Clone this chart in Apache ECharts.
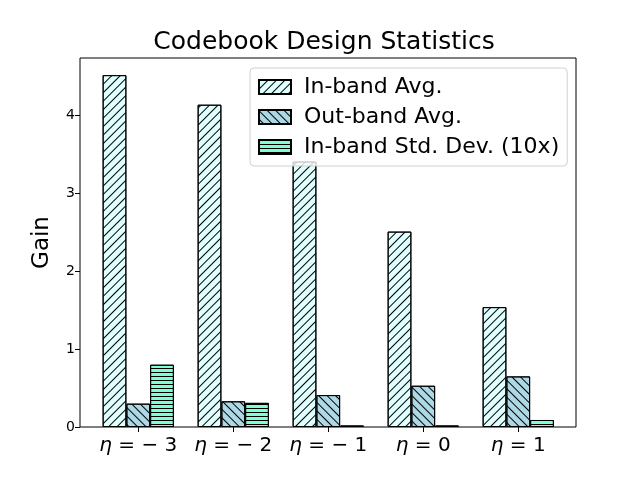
<!DOCTYPE html>
<html>
<head>
<meta charset="utf-8">
<style>
    html, body { margin: 0; padding: 0; background: #fff; }
    #main { width: 640px; height: 480px; }
</style>
</head>
<body>
<div id="main"></div>
<script src="https://cdn.jsdelivr.net/npm/echarts@6/dist/echarts.min.js"></script>
<script>
    var categories = ['η = − 3', 'η = − 2', 'η = − 1', 'η = 0', 'η = 1'];
    var inbandAvg = [4.52, 4.14, 3.41, 2.51, 1.54];
    var outbandAvg = [0.30, 0.33, 0.41, 0.53, 0.65];
    var inbandStd = [0.80, 0.31, 0.02, 0.02, 0.09];
    var yTicks = [0, 1, 2, 3, 4];

    var font = 'DejaVu Sans';
    var myChart = echarts.init(document.getElementById('main'));

    function hatch(rot, gap) {
        return {
            symbol: 'rect',
            symbolSize: 1,
            color: '#000',
            dashArrayX: [1, 0],
            dashArrayY: [1, gap],
            rotation: rot
        };
    }

    var option = {
        animation: false,
        backgroundColor: '#fff',
        title: {
            text: 'Codebook Design Statistics',
            left: 319,
            top: 25,
            textAlign: 'center',
            textStyle: {fontFamily: font, fontSize: 25, fontWeight: 'normal', color: '#000'}
        },
        legend: {
            orient: 'vertical',
            left: 250,
            top: 68,
            icon: 'rect',
            itemWidth: 32,
            itemHeight: 14,
            itemGap: 8,
            padding: [8, 8, 8, 8],
            backgroundColor: 'rgba(255,255,255,0.8)',
            borderColor: '#d0d0d0',
            borderWidth: 1,
            borderRadius: 4,
            textStyle: {fontFamily: font, fontSize: 22, color: '#000', padding: [0, 0, 0, 8]},
            data: ['In-band Avg.', 'Out-band Avg.', 'In-band Std. Dev. (10x)']
        },
        grid: [{
            // frame
            show: true,
            left: 80, top: 58, width: 496, height: 369,
            borderColor: '#000',
            borderWidth: 1,
            backgroundColor: 'transparent'
        }, {
            left: 90.75, top: 58, width: 475, height: 369
        }],
        xAxis: [{
            gridIndex: 0,
            type: 'value',
            min: 0, max: 1,
            show: false
        }, {
            gridIndex: 1,
            type: 'category',
            data: categories,
            axisLine: {show: false},
            axisTick: {show: true, alignWithLabel: true, length: 5, lineStyle: {color: '#000'}},
            axisLabel: {
                margin: 9,
                color: '#000',
                formatter: function (v) {
                    return '{e|' + v.charAt(0) + '}{n|' + v.slice(1) + '}';
                },
                rich: {
                    e: {fontFamily: font, fontStyle: 'italic', fontSize: 20, color: '#000'},
                    n: {fontFamily: font, fontSize: 20, color: '#000'}
                }
            }
        }],
        yAxis: [{
            gridIndex: 0,
            type: 'value',
            min: 0, max: 4.74,
            name: 'Gain',
            nameLocation: 'middle',
            nameGap: 26,
            nameTextStyle: {fontFamily: font, fontSize: 23, color: '#000'},
            axisLine: {show: false},
            axisTick: {show: true, length: 5, customValues: yTicks, lineStyle: {color: '#000'}},
            axisLabel: {
                margin: 5, color: '#000', fontFamily: font, fontSize: 14,
                customValues: yTicks
            },
            splitLine: {show: false}
        }, {
            gridIndex: 1,
            type: 'value',
            min: 0, max: 4.74,
            show: false,
            splitLine: {show: false}
        }],
        series: [{
            name: 'In-band Avg.',
            type: 'bar',
            xAxisIndex: 1, yAxisIndex: 1,
            barWidth: 23.75,
            barGap: '0%',
            data: inbandAvg,
            itemStyle: {color: '#e0ffff', borderColor: '#000', borderWidth: 1, decal: hatch(-Math.PI / 4, 4.8)}
        }, {
            name: 'Out-band Avg.',
            type: 'bar',
            xAxisIndex: 1, yAxisIndex: 1,
            barWidth: 23.75,
            barGap: '0%',
            data: outbandAvg,
            itemStyle: {color: '#add8e6', borderColor: '#000', borderWidth: 1, decal: hatch(Math.PI / 4, 4.8)}
        }, {
            name: 'In-band Std. Dev. (10x)',
            type: 'bar',
            xAxisIndex: 1, yAxisIndex: 1,
            barWidth: 23.75,
            barGap: '0%',
            data: inbandStd,
            itemStyle: {color: '#7fffd4', borderColor: '#000', borderWidth: 1, decal: hatch(0, 2.7)}
        }]
    };

    myChart.setOption(option);
</script>
</body>
</html>
